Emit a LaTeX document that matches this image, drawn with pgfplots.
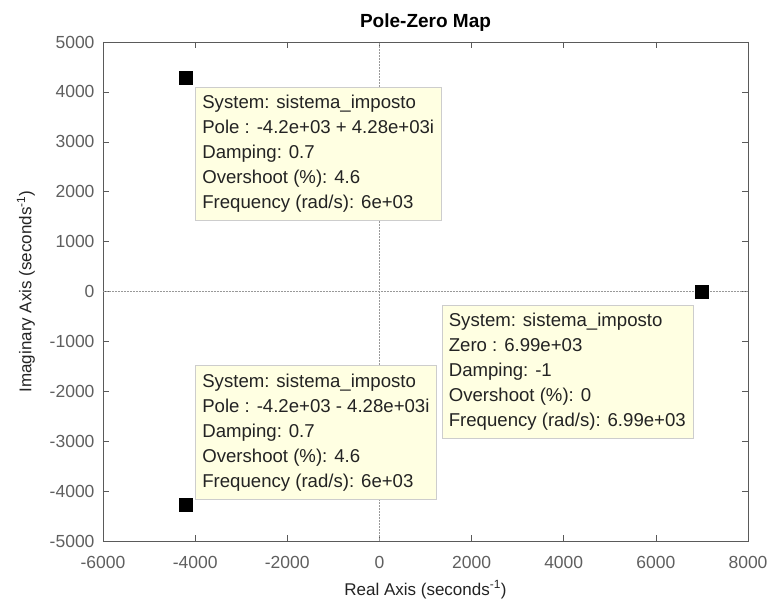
\documentclass[border=0pt]{standalone}
\usepackage{fontspec}
\setmainfont{Liberation Sans}
\usepackage{pgfplots}
\pgfplotsset{compat=1.18}
\definecolor{tipbg}{RGB}{255,255,226}
\definecolor{tipedge}{RGB}{205,205,205}
\definecolor{framegray}{RGB}{90,90,90}
\definecolor{labgray}{RGB}{95,95,95}
\definecolor{txt}{RGB}{35,35,35}
\begin{document}
\begin{tikzpicture}
\begin{axis}[
  scale only axis, width=645bp, height=499bp,
  xmin=-6000, xmax=8000, ymin=-5000, ymax=5000,
  xtick={-6000,-4000,-2000,0,2000,4000,6000,8000},
  ytick={-5000,-4000,-3000,-2000,-1000,0,1000,2000,3000,4000,5000},
  scaled ticks=false,
  /pgf/number format/assume math mode=true,
  /pgf/number format/set thousands separator={},
  tick align=inside, major tick length=6bp,
  axis line style={draw=framegray, line width=0.6pt},
  tick style={draw=framegray, line width=0.5pt},
  ticklabel style={font=\fontsize{17.5bp}{19bp}\selectfont, text=labgray},
  xticklabel style={yshift=-12bp},
  yticklabel style={xshift=-5bp},
  xlabel={Real Axis (seconds\textsuperscript{-1})},
  ylabel={Imaginary Axis (seconds\textsuperscript{-1})},
  label style={font=\fontsize{17bp}{19bp}\selectfont, text=txt},
  xlabel style={yshift=-5bp},
  ylabel style={yshift=8bp},
  title={Pole-Zero Map},
  title style={font=\bfseries\fontsize{19bp}{21bp}\selectfont, text=black, yshift=1bp},
  clip=false,
]
\addplot[densely dotted, color=gray!80, line width=0.5pt] coordinates {(0,-5000) (0,5000)};
\addplot[densely dotted, color=gray!80, line width=0.5pt] coordinates {(-6000,0) (8000,0)};
\addplot[only marks, mark=square*, mark size=6.5bp, black] coordinates {(-4200,4280) (-4200,-4280) (6990,0)};
\node[anchor=north west, fill=tipbg, draw=tipedge, align=left, inner xsep=7bp, inner ysep=8bp,
  font=\fontsize{18.6bp}{25bp}\selectfont, text=txt] at (axis cs:-4000,4100)
  {System: sistema\_imposto\\Pole : -4.2e+03 + 4.28e+03i\\Damping: 0.7\\Overshoot (\%): 4.6\\Frequency (rad/s): 6e+03};
\node[anchor=north west, fill=tipbg, draw=tipedge, align=left, inner xsep=7bp, inner ysep=8bp,
  font=\fontsize{18.6bp}{25bp}\selectfont, text=txt] at (axis cs:-4000,-1480)
  {System: sistema\_imposto\\Pole : -4.2e+03 - 4.28e+03i\\Damping: 0.7\\Overshoot (\%): 4.6\\Frequency (rad/s): 6e+03};
\node[anchor=north west, fill=tipbg, draw=tipedge, align=left, inner xsep=7bp, inner ysep=8bp,
  font=\fontsize{18.6bp}{25bp}\selectfont, text=txt] at (axis cs:1350,-270)
  {System: sistema\_imposto\\Zero : 6.99e+03\\Damping: -1\\Overshoot (\%): 0\\Frequency (rad/s): 6.99e+03};
\end{axis}
\pgfresetboundingbox
\path (current axis.south west) ++(-103bp,-67bp) coordinate (bbA);
\path (current axis.north east) ++(24bp,42bp) coordinate (bbB);
\path[use as bounding box] (bbA) rectangle (bbB);
\end{tikzpicture}
\end{document}
